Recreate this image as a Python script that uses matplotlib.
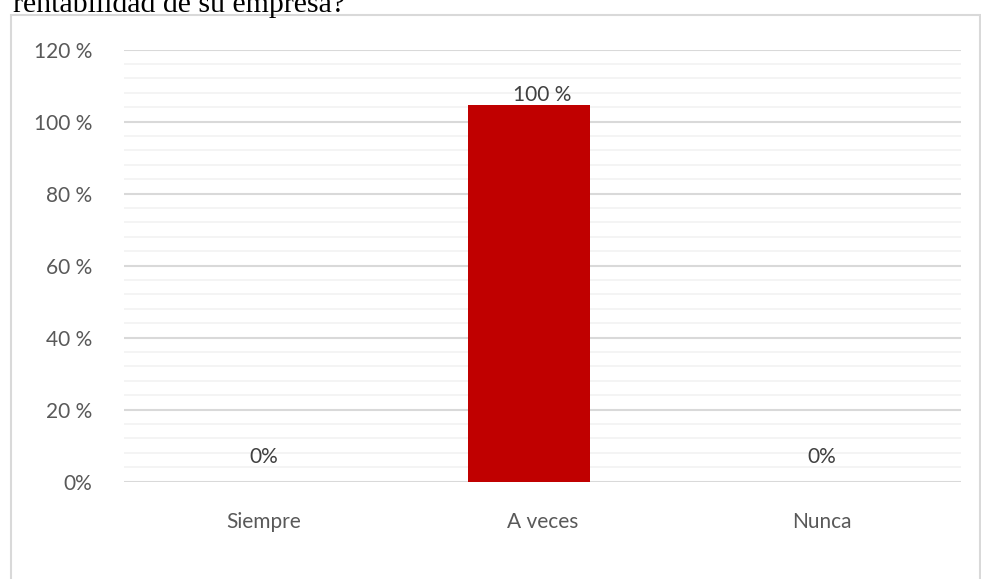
import numpy as np
import matplotlib.pyplot as plt
from matplotlib.patches import Rectangle
from matplotlib.ticker import MultipleLocator

categories = ['Siempre', 'A veces', 'Nunca']
values = [0, 104.6, 0]
value_labels = ['0%', '100 %', '0%']
y_ticks = [0, 20, 40, 60, 80, 100, 120]
y_tick_labels = ['0%', '20 %', '40 %', '60 %', '80 %', '100 %', '120 %']
title_text = 'rentabilidad de su empresa?'

plt.rcParams['font.family'] = ['Lato', 'DejaVu Sans']

fig = plt.figure(figsize=(9.81, 5.79), dpi=100)
fig.patch.set_facecolor('white')

# chart border (runs off the bottom of the image)
fig.patches.append(Rectangle((11 / 981, -0.1), (980 - 11) / 981, 1.1 - 15 / 579,
                             transform=fig.transFigure, fill=False,
                             edgecolor='#d9d9d9', linewidth=1.5))

# question text above the chart, cut off by the top edge as in the source
fig.text(13 / 981, 1 - 12 / 579, title_text, fontsize=21.5,
         family='Liberation Serif', color='black', va='baseline', ha='left')

ax = fig.add_axes([124 / 981, 1 - 481.7 / 579, (961 - 124) / 981, (481.7 - 49.5) / 579])
x = np.arange(len(categories))
ax.bar(x - 0.048, values, width=0.437, color='#c00000', zorder=3)

ax.set_xlim(-0.5, 2.5)
ax.set_ylim(0, 120)
ax.set_yticks(y_ticks)
ax.set_yticklabels(y_tick_labels)
ax.yaxis.set_minor_locator(MultipleLocator(4))
ax.set_xticks(x)
ax.set_xticklabels(categories)

ax.grid(axis='y', which='major', color='#d9d9d9', linewidth=1.5, zorder=0)
ax.grid(axis='y', which='minor', color='#f2f2f2', linewidth=1.2, zorder=0)
ax.tick_params(axis='both', which='both', length=0, labelsize=15, colors='#595959')
ax.tick_params(axis='x', pad=22)
ax.tick_params(axis='y', pad=23)
for s in ax.spines.values():
    s.set_visible(False)

offsets = [18, 7, 18]
for xi, v, lab, off in zip(x, values, value_labels, offsets):
    ax.annotate(lab, (xi, v), xytext=(0, off), textcoords='offset points',
                ha='center', va='center', fontsize=15, color='#404040')

fig.savefig('out.png', dpi=100)
